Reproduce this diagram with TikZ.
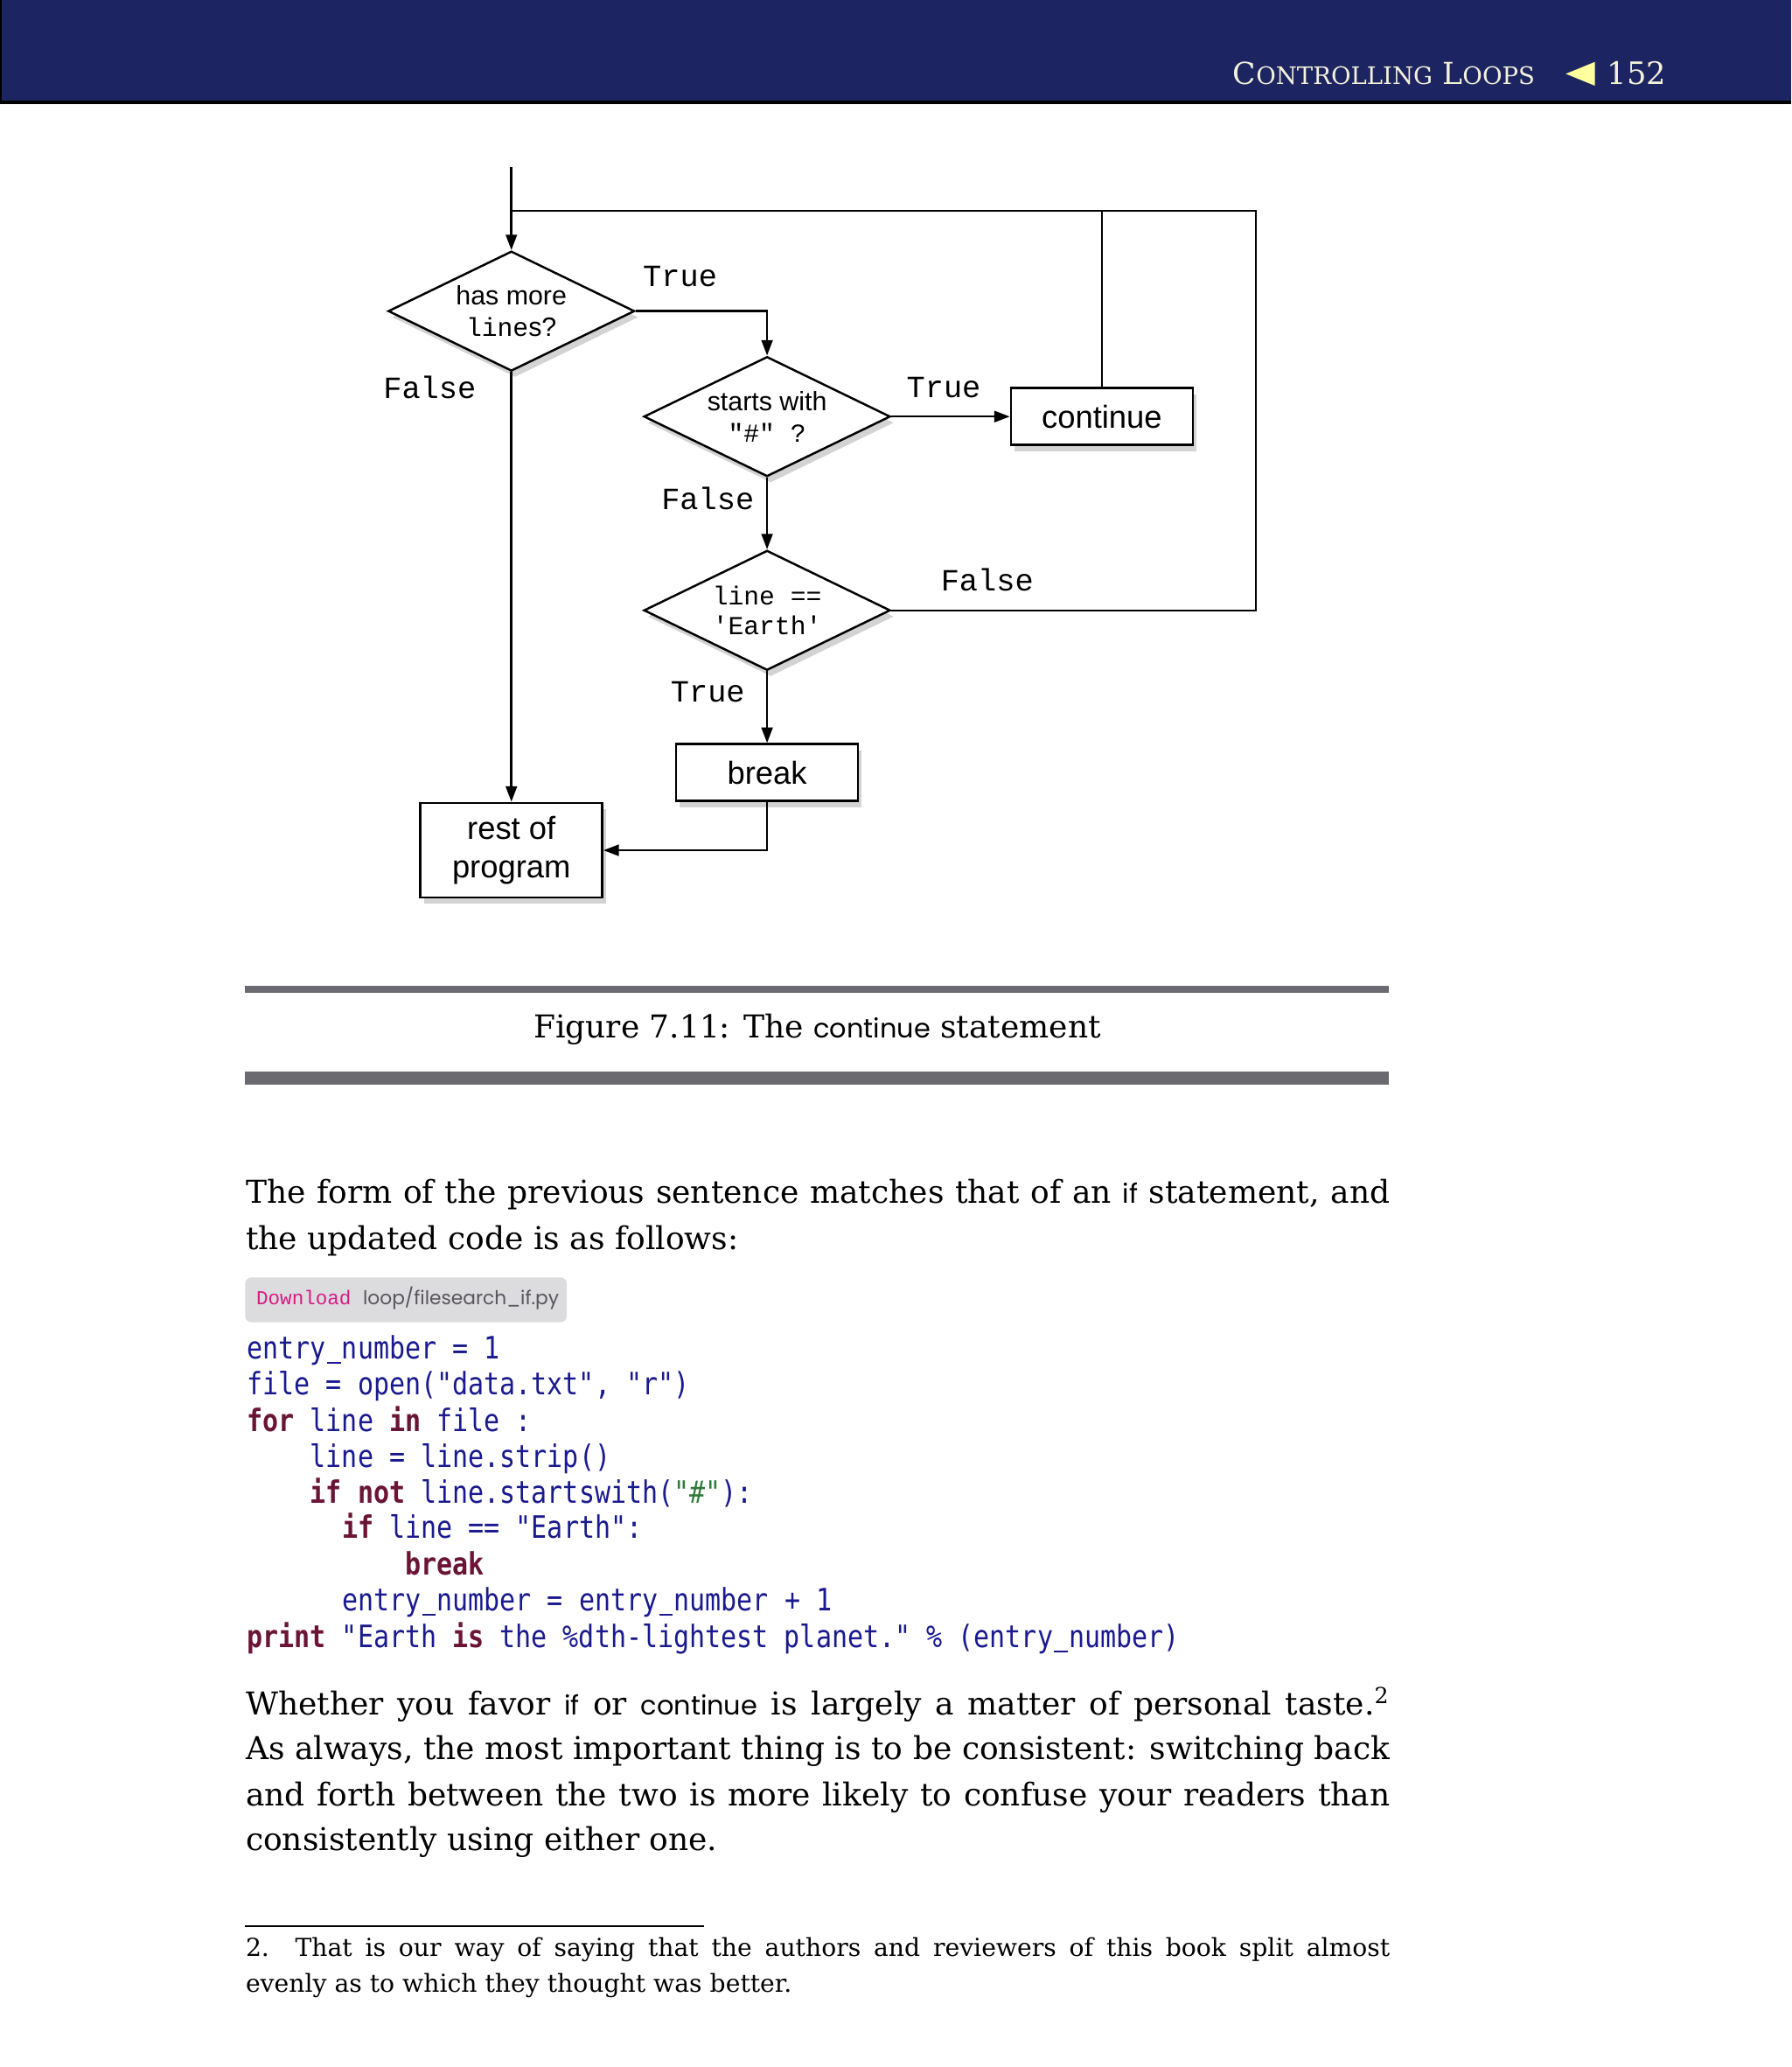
\documentclass[tikz,border=0pt]{standalone}
\usepackage{fontspec}
\usepackage{xcolor}
\setmainfont{DejaVu Serif}
\newfontfamily\flowsans{Liberation Sans}
\newfontfamily\flowmono{Liberation Mono}
\newfontfamily\codefont{DejaVu Sans Mono}[FakeStretch=0.85]
\newfontfamily\namefont{Poppins}
\usetikzlibrary{shapes.geometric, shadows, arrows.meta}
\definecolor{headnavy}{HTML}{1C2461}
\definecolor{headcream}{HTML}{F4F1DA}
\definecolor{headarrow}{HTML}{FFFF9E}
\definecolor{rulegray}{HTML}{6B6A70}
\definecolor{dlgray}{HTML}{DCDBDE}
\definecolor{dlpink}{HTML}{D81B84}
\definecolor{dlpath}{HTML}{58565C}
\definecolor{codeblue}{HTML}{1A1A8E}
\definecolor{codekw}{HTML}{6A1436}
\definecolor{codegreen}{HTML}{2E7A3A}
\newlength{\textw}\setlength{\textw}{370.5pt}
\newcommand{\fullline}[1]{\makebox[\textw][s]{#1}}
\newcommand{\kw}[1]{{\color{codekw}\bfseries #1}}
\newcommand{\us}{\makebox[5.12pt][c]{\rule[-1.6pt]{4.4pt}{0.7pt}}}
\newcommand{\nm}[1]{{\namefont\fontsize{8.6}{10}\selectfont #1}}
\newcommand{\fakesc}[2]{{\fontsize{9.8}{10}\selectfont #1}{\fontsize{7.8}{10}\selectfont #2}}

\begin{document}
\begin{tikzpicture}[x=0.015cm, y=-0.015cm,
    decision/.style={diamond, draw, line width=0.7pt, fill=white, inner sep=0pt,
                     minimum width=79.8pt, minimum height=38.8pt,
                     drop shadow={shadow xshift=1.2pt, shadow yshift=-2pt, opacity=0.35}},
    dectext/.style={align=center, inner sep=0pt,
                    font=\flowsans\fontsize{8.6}{10.2}\selectfont},
    stepbox/.style={rectangle, draw, line width=0.7pt, fill=white, align=center,
                    minimum width=58.9pt, minimum height=18.4pt,
                    font=\flowsans\fontsize{10.3}{12.4}\selectfont,
                    drop shadow={shadow xshift=1.2pt, shadow yshift=-2pt, opacity=0.35}},
    arr/.style={-{Triangle[length=5pt,width=3.6pt]}, line width=0.7pt},
    line/.style={line width=0.7pt},
    flowlbl/.style={font=\flowmono\fontsize{10}{12}\selectfont},
    bodyline/.style={anchor=base west, inner sep=0pt, font=\fontsize{10.2}{14.7}\selectfont},
    noteline/.style={anchor=base west, inner sep=0pt, font=\fontsize{8}{11.5}\selectfont},
    codeline/.style={anchor=base west, inner sep=0pt, text=codeblue,
                     font=\codefont\fontsize{10}{11.6}\selectfont}
  ]
  \useasboundingbox (0,0) rectangle (1359,1568);

  % running head
  \fill[headnavy] (0,0) rectangle (1359,77);
  \draw[line width=1.2pt] (0,77.5) -- (1359,77.5);
  \draw[line width=0.8pt] (0.5,0) -- (0.5,77);
  \node[anchor=base east, inner sep=0pt, text=headcream] (head) at (1165,64)
    {\fakesc{C}{ONTROLLING} \fakesc{L}{OOPS}};
  \fill[headarrow] (1188,56) -- (1210,47) -- (1210,65) -- cycle;
  \node[anchor=base west, inner sep=0pt, text=headcream, font=\fontsize{10}{12}\selectfont]
    (page) at (1219,64) {152};

  % flowchart
  \coordinate (start) at (388,127);
  \coordinate (join) at (388,160);
  \coordinate (loopr) at (953,160);
  \node[decision] (more) at (388,236) {};
  \node[decision] (hash) at (582,316) {};
  \node[decision] (earth) at (582,463) {};
  \node[dectext] (moretxt) at (more) {has more\\{\flowmono\fontsize{8.4}{10.2}\selectfont line}s?};
  \node[dectext] (hashtxt) at (hash) {starts with\\{\flowmono\fontsize{8.4}{10.2}\selectfont "\#" ?}};
  \node[dectext, font=\flowmono\fontsize{8.4}{9.8}\selectfont] (earthtxt) at (earth)
    {line ==\\\textquotesingle Earth\textquotesingle};
  \node[stepbox] (cont) at (836,316) {continue};
  \node[stepbox] (brk) at (582,586) {break};
  \node[stepbox, minimum height=30.7pt] (rest) at (388,645) {rest of\\program};

  \draw[arr] (start) -- (more.north);
  \draw[line] (earth.east) -| (loopr) -- (join);
  \draw[line] (cont.north) -- (cont.north |- join);
  \draw[arr] (more.east) -| (hash.north);
  \draw[arr] (more.south) -- (rest.north);
  \draw[arr] (hash.east) -- (cont.west);
  \draw[arr] (hash.south) -- (earth.north);
  \draw[arr] (earth.south) -- (brk.north);
  \draw[arr] (brk.south) |- (rest.east);

  \node[flowlbl] (t1) at (516,210) {True};
  \node[flowlbl] (f1) at (326,294) {False};
  \node[flowlbl] (t2) at (716,294) {True};
  \node[flowlbl] (f2) at (537,378) {False};
  \node[flowlbl] (f3) at (749,440) {False};
  \node[flowlbl] (t3) at (537,525) {True};

  % caption
  \fill[rulegray] (186,748) rectangle (1054,753);
  \node[anchor=base, inner sep=0pt, font=\fontsize{10.2}{12}\selectfont] (cap) at (620,787)
    {Figure 7.11: The \nm{continue} statement};
  \fill[rulegray] (186,813) rectangle (1054,823);

  % text
  \node[bodyline] (p1a) at (186,913) {\fullline{The form of the previous sentence matches that of an \nm{if} statement, and}};
  \node[bodyline] (p1b) at (186,948) {the updated code is as follows:};

  \fill[dlgray, rounded corners=2pt] (186,969) rectangle (430,1003);
  \node[anchor=base west, inner sep=0pt, text=dlpink, font=\flowmono\fontsize{6.4}{8}\selectfont]
    (dl) at (194,990) {Download};
  \node[anchor=base west, inner sep=0pt, text=dlpath, font=\namefont\fontsize{6.15}{8}\selectfont]
    (dlfile) at (275,990) {loop/filesearch\_if.py};

  \node[codeline] (c1) at (187,1031) {entry\us number = 1};
  \node[codeline] (c2) at (187,1058) {file = open("data.txt", "r")};
  \node[codeline] (c3) at (187,1086) {\kw{for} line \kw{in} file :};
  \node[codeline] (c4) at (235,1113) {line = line.strip()};
  \node[codeline] (c5) at (235,1140) {\kw{if} \kw{not} line.startswith({\color{codegreen}"\#"}):};
  \node[codeline] (c6) at (259,1167) {\kw{if} line == "Earth":};
  \node[codeline] (c7) at (307,1195) {\kw{break}};
  \node[codeline] (c8) at (259,1222) {entry\us number = entry\us number + 1};
  \node[codeline] (c9) at (187,1250) {\kw{print} "Earth \kw{is} the \%dth-lightest planet." \% (entry\us number)};

  \node[bodyline] (p2a) at (186,1301) {\fullline{Whether you favor \nm{if} or \nm{continue} is largely a matter of personal taste.\textsuperscript{2}}};
  \node[bodyline] (p2b) at (186,1335) {\fullline{As always, the most important thing is to be consistent: switching back}};
  \node[bodyline] (p2c) at (186,1370) {\fullline{and forth between the two is more likely to confuse your readers than}};
  \node[bodyline] (p2d) at (186,1404) {consistently using either one.};

  % footnote
  \draw[line width=0.5pt] (186,1461) -- (534,1461);
  \node[noteline] (n1) at (186,1484) {\fullline{2.\ \ That is our way of saying that the authors and reviewers of this book split almost}};
  \node[noteline] (n2) at (186,1511) {evenly as to which they thought was better.};
\end{tikzpicture}
\end{document}
